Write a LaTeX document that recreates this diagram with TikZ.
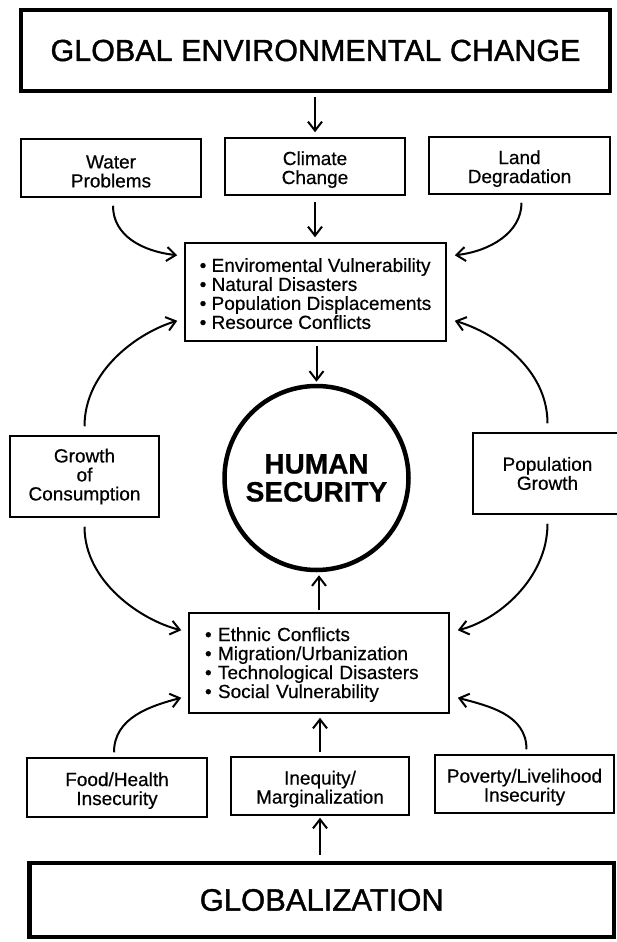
\documentclass[tikz,border=0pt]{standalone}
\usepackage{fontspec}
\setmainfont{Liberation Sans}[FakeBold=0.5]
\newfontfamily\headfont{Liberation Sans}[FakeBold=1.2]
\usetikzlibrary{arrows.meta,calc}
\newcommand{\myTopStrut}{\rule{0pt}{20pt}}
\newcommand{\myListStrut}{\rule{0pt}{17pt}}
\begin{document}
\begin{tikzpicture}[x=1pt,y=-1pt,
  box/.style={draw, line width=1.5pt, inner sep=0pt, align=center, font=\fontsize{19}{19}\selectfont},
  bigbox/.style={draw, line width=4.5pt, inner sep=0pt, font=\headfont\fontsize{30.5}{31}\selectfont},
  listbox/.style={draw, line width=1.5pt, align=left, inner ysep=0pt, font=\fontsize{19}{19}\selectfont},
  hsnode/.style={circle, draw, line width=4.5pt, minimum size=184pt, inner sep=0pt, align=center, font=\bfseries\fontsize{28}{28}\selectfont},
  arr/.style={line width=2pt, -{Straight Barb[length=9pt,width=14pt]}},
]
\useasboundingbox (0,0) rectangle (617,942);
\fill[white] (0,0) rectangle (617,942);
\clip (0,0) rectangle (617,942);

% nodes
\node[bigbox, minimum width=589pt, minimum height=81pt] (top) at (315.5,50.5) {GLOBAL ENVIRONMENTAL CHANGE};
\node[box, minimum width=180pt, minimum height=58pt] (water) at (111,168) {\myTopStrut Water\\Problems};
\node[box, minimum width=180pt, minimum height=57pt] (climate) at (315,166.5) {\myTopStrut Climate\\Change};
\node[box, minimum width=181pt, minimum height=57pt] (land) at (519.5,165.5) {\myTopStrut Land\\Degradation};

\node[listbox, inner xsep=0pt, minimum width=261pt, minimum height=98pt] (envbox) at (315.5,292)
  {\myListStrut\textbullet\ Enviromental Vulnerability\\\textbullet\ Natural Disasters\\\textbullet\ Population Displacements\\\textbullet\ Resource Conflicts};

\node[hsnode] (hs) at (316.5,478) {HUMAN\\SECURITY};
\node[box, minimum width=149pt, minimum height=81pt] (growth) at (84.5,476.5) {Growth\\of\\Consumption};
\node[box, minimum width=149pt, minimum height=81pt] (popgrowth) at (547.5,473.5) {Population\\Growth};

\node[listbox, text width=228pt, inner xsep=16pt, minimum height=100pt] (socbox) at (319,663)
  {\myListStrut\textbullet\ Ethnic Conflicts\\\textbullet\ Migration/Urbanization\\\textbullet\ Technological Disasters\\\textbullet\ Social Vulnerability};

\node[box, minimum width=180pt, minimum height=59pt] (food) at (117,787.5) {\myTopStrut Food/Health\\Insecurity};
\node[box, minimum width=178pt, minimum height=58pt] (ineq) at (320,786) {\myTopStrut Inequity/\\Marginalization};
\node[box, minimum width=179pt, minimum height=58pt] (poverty) at (524.5,784) {\myTopStrut Poverty/Livelihood\\Insecurity};
\node[bigbox, minimum width=584.5pt, minimum height=74pt, font=\headfont\fontsize{31}{31}\selectfont] (glob) at (321.75,900) {\raisebox{-3pt}{GLOBALIZATION}};

% straight arrows
\draw[arr, shorten <=4pt, shorten >=5pt] (climate.north |- top.south) -- (climate.north);
\draw[arr, shorten <=6pt, shorten >=5pt] (climate.south) -- (climate.south |- envbox.north);
\draw[arr, shorten <=4pt, shorten >=2pt] (hs.north |- envbox.south) -- (hs.north);
\draw[arr, shorten <=2pt, shorten >=3pt] (socbox.north) -- (socbox.north |- hs.south);
\draw[arr, shorten <=4pt, shorten >=4pt] (ineq.north) -- (ineq.north |- socbox.south);
\draw[arr, shorten <=6pt, shorten >=2pt] (glob.north -| ineq.south) -- (ineq.south);

% curved arrows, top
\draw[arr] ($(water.south)+(2,8)$) .. controls +(0,30) and +(-35,-4) .. ($(envbox.north west)+(-7,13)$);
\draw[arr] ($(land.south)+(2,8)$) .. controls +(0,30) and +(35,-4) .. ($(envbox.north east)+(8,13)$);
% middle
\draw[arr] ($(growth.north)+(0,-9)$) .. controls +(0,-55) and +(-40,12) .. ($(envbox.south west)+(-7,-21)$);
\draw[arr] ($(popgrowth.north)+(0,-9)$) .. controls +(0,-55) and +(40,12) .. ($(envbox.south east)+(8,-21)$);
\draw[arr] ($(growth.south)+(0,9)$) .. controls +(0,55) and +(-40,-10) .. ($(socbox.north west)+(-7,18)$);
\draw[arr] ($(popgrowth.south)+(0,9)$) .. controls +(0,55) and +(40,-10) .. ($(socbox.north east)+(8,18)$);
% bottom
\draw[arr] ($(food.north)+(-3,-5)$) .. controls +(0,-35) and +(-30,8) .. ($(socbox.south west)+(-7,-16)$);
\draw[arr] ($(poverty.north)+(2,-5)$) .. controls +(0,-35) and +(30,8) .. ($(socbox.south east)+(8,-16)$);
\end{tikzpicture}
\end{document}
